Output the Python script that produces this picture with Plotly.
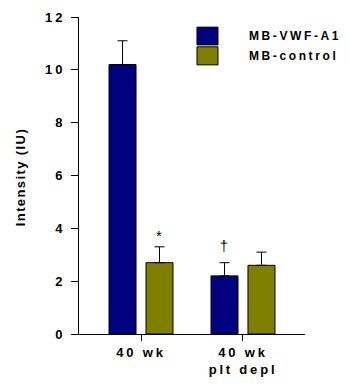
import plotly.graph_objects as go

categories = ["40 wk", "40 wk<br>plt depl"]
vwf_values = [10.2, 2.2]
vwf_err = [0.9, 0.5]
ctrl_values = [2.7, 2.6]
ctrl_err = [0.6, 0.5]
series_names = ["MB-VWF-A1", "MB-control"]
y_ticks = [0, 2, 4, 6, 8, 10, 12]

NAVY = "#000080"
OLIVE = "#808000"
FONT = "Liberation Sans, Arial, sans-serif"

fig = go.Figure()
for name, vals, errs, col in [(series_names[0], vwf_values, vwf_err, NAVY),
                              (series_names[1], ctrl_values, ctrl_err, OLIVE)]:
    fig.add_trace(go.Bar(
        x=categories, y=vals, name=name,
        marker=dict(color=col, line=dict(color="black", width=1)),
        error_y=dict(type="data", symmetric=False, array=errs,
                     arrayminus=[0] * len(errs), color="black",
                     thickness=1, width=5),
        showlegend=False,
    ))

fig.update_layout(
    width=349, height=385,
    margin=dict(l=79, r=44, t=17, b=51),
    paper_bgcolor="white", plot_bgcolor="white",
    barmode="group", bargap=0.275, bargroupgap=0.27,
    font=dict(family=FONT, size=12, color="black"),
    xaxis=dict(range=[-0.608, 1.608], showline=True, linecolor="black",
               linewidth=1, ticks="outside", ticklen=6, tickcolor="black",
               automargin=False,
               tickfont=dict(size=13, family=FONT, weight="bold"),
               showgrid=False, zeroline=False, fixedrange=True),
    yaxis=dict(range=[0, 12], tickvals=y_ticks, showline=True,
               linecolor="black", linewidth=1, ticks="outside", ticklen=7,
               tickcolor="black", ticklabelstandoff=3, automargin=False,
               tickfont=dict(size=13, family=FONT, weight="bold"),
               showgrid=False, zeroline=False, fixedrange=True),
)

fig.add_annotation(text="<b>Intensity (IU)</b>", textangle=-90, xref="paper",
                   yref="paper", x=-0.261, y=0.494, xanchor="center", yanchor="middle",
                   showarrow=False, font=dict(size=13, family=FONT))

legend_boxes = [(0.522, 0.968, 0.615, 0.912, NAVY), (0.522, 0.906, 0.615, 0.849, OLIVE)]
for (x0, y1, x1, y0, col), name in zip(legend_boxes, series_names):
    fig.add_shape(type="rect", xref="paper", yref="paper", x0=x0, x1=x1, y0=y0, y1=y1,
                  fillcolor=col, line=dict(color="black", width=1))
    fig.add_annotation(text="<b>" + name + "</b>", xref="paper", yref="paper",
                       x=0.743, y=(y0 + y1) / 2, xanchor="left", yanchor="middle",
                       align="left", showarrow=False, font=dict(size=12, family=FONT))

fig.add_annotation(text="*", x=categories[0], y=3.72, xshift=18, showarrow=False,
                   font=dict(size=15, family=FONT, color="black"))
fig.add_annotation(text="†", x=categories[1], y=3.32, xshift=-19, showarrow=False,
                   font=dict(size=14, family=FONT, color="black"))

post = """
var s=document.createElement('style');
s.textContent='.xtick text{letter-spacing:2.8px}.ytick text{letter-spacing:3px}'+
 '.annotation[data-index="1"] text,.annotation[data-index="2"] text{letter-spacing:2.6px}'+
 '.annotation[data-index="0"] text{letter-spacing:1.4px}';
document.head.appendChild(s);
"""
fig.write_html("out.html", post_script=post)
